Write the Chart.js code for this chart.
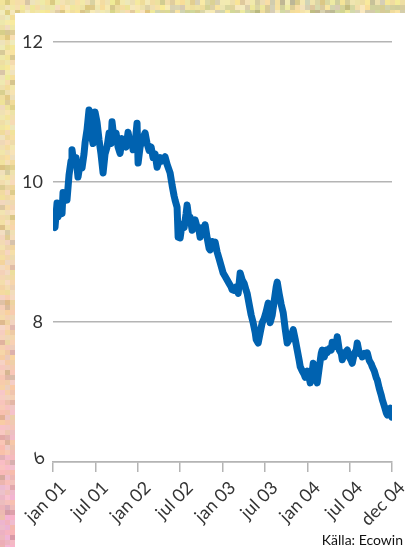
<!DOCTYPE html>
<html>
<head>
<meta charset="utf-8">
<script src="https://cdn.jsdelivr.net/npm/chart.js@4/dist/chart.umd.min.js"></script>
<style>
  html, body { margin: 0; padding: 0; overflow: hidden; }
  body { width: 405px; height: 547px; position: relative; }
  #frame { position: absolute; left: 0; top: 0; }
  #panel { position: absolute; left: 15px; top: 13px; width: 390px; height: 534px; background: #fff; }
  #chart { position: absolute; left: 0; top: 0; }
</style>
</head>
<body>
<canvas id="frame" width="405" height="547"></canvas>
<div id="panel"></div>
<canvas id="chart" width="405" height="547"></canvas>
<script>
// Months counted from january 2001
const months = [
  0, 0.28, 0.57, 0.71, 0.99, 1.28, 1.42, 1.70, 1.98, 2.27, 2.55, 2.69, 2.98, 3.26, 3.54, 3.83,
  4.11, 4.39, 4.54, 4.82, 5.10, 5.39, 5.67, 5.95, 6.24, 6.52, 6.80, 7.09, 7.37, 7.65, 7.94,
  8.22, 8.36, 8.65, 8.93, 9.21, 9.50, 9.78, 10.06, 10.35, 10.63, 10.91, 11.20, 11.34, 11.62,
  11.90, 12.05, 12.33, 12.61, 13.04, 13.32, 13.61, 13.89, 14.17, 14.46, 14.74, 15.16, 15.45,
  15.87, 16.16, 16.58, 16.87, 17.15, 17.29, 17.57, 17.72, 18.00, 18.28, 18.57, 18.85, 18.99,
  19.27, 19.42, 19.70, 19.98, 20.12, 20.41, 20.69, 20.83, 21.12, 21.40, 21.54, 21.83, 22.11,
  22.25, 22.53, 22.68, 22.96, 23.24, 23.53, 23.81, 24.09, 24.38, 24.66, 24.94, 25.23, 25.37,
  25.65, 25.94, 26.22, 26.50, 26.79, 27.07, 27.35, 27.49, 27.78, 28.06, 28.34, 28.63, 28.77,
  29.05, 29.34, 29.62, 29.90, 30.19, 30.47, 30.75, 31.04, 31.32, 31.60, 31.75, 32.03, 32.31,
  32.60, 32.88, 33.16, 33.45, 33.73, 34.01, 34.30, 34.58, 34.86, 35.01, 35.29, 35.57, 35.71,
  36.00, 36.28, 36.42, 36.71, 36.85, 37.13, 37.41, 37.70, 37.98, 38.12, 38.41, 38.69, 38.83,
  39.12, 39.40, 39.54, 39.82, 40.11, 40.25, 40.53, 40.82, 40.96, 41.24, 41.52, 41.67, 41.95,
  42.23, 42.37, 42.66, 42.94, 43.08, 43.37, 43.65, 43.79, 44.08, 44.36, 44.50, 44.78, 45.07,
  45.21, 45.49, 45.78, 45.92, 46.20, 46.49, 46.63, 46.91, 47.20, 47.34, 47.62, 47.76, 48.00
];

const rates = [
  9.40, 9.35, 9.70, 9.50, 9.60, 9.55, 9.85, 9.80, 9.74, 10.10, 10.30, 10.46, 10.25, 10.35, 10.07, 10.25,
  10.20, 10.40, 10.56, 10.75, 11.03, 10.70, 10.55, 11.00, 10.85, 10.60, 10.40, 10.13, 10.40, 10.50, 10.70,
  10.55, 10.86, 10.60, 10.70, 10.50, 10.41, 10.62, 10.55, 10.50, 10.71, 10.55, 10.60, 10.46, 10.55,
  10.84, 10.27, 10.50, 10.60, 10.70, 10.55, 10.45, 10.50, 10.35, 10.40, 10.21, 10.35, 10.30,
  10.36, 10.25, 10.13, 9.95, 9.80, 9.74, 9.64, 9.21, 9.20, 9.40, 9.35, 9.55, 9.67,
  9.45, 9.50, 9.31, 9.40, 9.46, 9.35, 9.30, 9.21, 9.35, 9.30, 9.39, 9.20, 9.05,
  9.03, 9.15, 9.10, 9.14, 9.00, 8.90, 8.80, 8.70, 8.65, 8.60, 8.55, 8.50, 8.46,
  8.45, 8.50, 8.41, 8.70, 8.60, 8.55, 8.45, 8.41, 8.25, 8.10, 7.99, 7.85, 7.75,
  7.70, 7.85, 7.99, 8.05, 8.15, 8.27, 7.99, 8.10, 8.30, 8.50, 8.57, 8.40, 8.25,
  8.13, 7.90, 7.70, 7.75, 7.80, 7.89, 7.75, 7.60, 7.45, 7.36, 7.30, 7.25, 7.21,
  7.30, 7.20, 7.13, 7.30, 7.41, 7.25, 7.13, 7.35, 7.55, 7.60, 7.50, 7.60, 7.56,
  7.62, 7.60, 7.71, 7.65, 7.70, 7.79, 7.60, 7.55, 7.46, 7.55, 7.58, 7.60, 7.50,
  7.45, 7.41, 7.55, 7.60, 7.70, 7.55, 7.55, 7.50, 7.55, 7.52, 7.56, 7.45, 7.40,
  7.36, 7.30, 7.20, 7.17, 7.05, 6.95, 6.89, 6.80, 6.70, 6.67, 6.75, 6.77, 6.64
];

const tickMonths = [0, 6, 12, 18, 24, 30, 36, 42, 48];
const tickLabels = ['jan 01', 'jul 01', 'jan 02', 'jul 02', 'jan 03', 'jul 03', 'jan 04', 'jul 04', 'dec 04'];
const yTicks = [6, 8, 10, 12];
const source = 'Källa: Ecowin';

const FONT = 'Lato, "Liberation Sans", sans-serif';
const TEXT = '#333333';
const GRID = '#b4b4b4';

// mottled paper frame behind the white panel
function paintFrame() {
    const c = document.getElementById('frame').getContext('2d');
    const cell = 5;
    let seed = 7;
    const next = () => { seed = (seed * 9301 + 49297) % 233280; return seed / 233280; };
    for (let y = 0; y < 547; y += cell) {
        for (let x = 0; x < 405; x += cell) {
            const t = y / 547;
            // yellow at the top, turning to pink down the left edge
            let r = 236 + next() * 14, g = 220 + next() * 16 - t * t * 50, b = 150 + next() * 40 + t * t * 25;
            if (y < 14 && x > 150 && next() > 0.5) { r -= 28; g -= 18; b -= 5; }
            if (next() > 0.85) { r -= 22; g -= 22; b -= 22; }
            c.fillStyle = `rgb(${r | 0},${g | 0},${b | 0})`;
            c.fillRect(x, y, cell, cell);
        }
    }
}
paintFrame();

const extras = {
    id: 'extras',
    afterDraw(chart) {
        const ctx = chart.ctx;
        const y = chart.scales.y;
        ctx.save();
        ctx.fillStyle = TEXT;
        // bottom value label sits tilted like the dates
        ctx.font = '18px ' + FONT;
        ctx.translate(y.right - 15, y.getPixelForValue(yTicks[0]) - 3);
        ctx.rotate(-Math.PI / 4);
        ctx.textAlign = 'right';
        ctx.textBaseline = 'middle';
        ctx.fillText(String(yTicks[0]), 6, 0);
        ctx.restore();

        ctx.save();
        ctx.fillStyle = '#111';
        ctx.font = '14px ' + FONT;
        ctx.textAlign = 'right';
        ctx.textBaseline = 'alphabetic';
        ctx.fillText(source, 403, 545);
        ctx.restore();
    }
};

new Chart(document.getElementById('chart'), {
    type: 'line',
    data: {
        datasets: [{
            data: months.map((m, i) => ({ x: m, y: rates[i] })),
            borderColor: '#0062b0',
            borderWidth: 7,
            borderJoinStyle: 'round',
            borderCapStyle: 'round',
            pointRadius: 0,
            tension: 0
        }]
    },
    options: {
        responsive: false,
        animation: false,
        layout: { padding: { left: 0, right: 13, top: 42, bottom: 0 } },
        plugins: { legend: { display: false }, tooltip: { enabled: false } },
        scales: {
            x: {
                type: 'linear',
                min: 0,
                max: 48,
                afterBuildTicks: (scale) => { scale.ticks = tickMonths.map(v => ({ value: v })); },
                afterFit: (scale) => {
                    scale.height = 85;
                    scale.paddingLeft = 0;
                    scale.paddingRight = 0;
                },
                border: { display: true, color: GRID, width: 1.5 },
                grid: { drawOnChartArea: false, drawTicks: true, tickLength: 10, color: GRID, lineWidth: 1.5 },
                ticks: {
                    callback: (v) => tickLabels[tickMonths.indexOf(v)],
                    minRotation: 45,
                    maxRotation: 45,
                    autoSkip: false,
                    padding: 5,
                    labelOffset: 10,
                    color: TEXT,
                    font: { family: FONT, size: 18 }
                }
            },
            y: {
                min: 6,
                max: 12,
                afterBuildTicks: (scale) => { scale.ticks = yTicks.map(v => ({ value: v })); },
                afterFit: (scale) => { scale.width = 53; },
                border: { display: false },
                grid: { drawTicks: false, color: GRID, lineWidth: 1.5 },
                ticks: {
                    callback: (v) => (v === yTicks[0] ? '' : String(v)),
                    padding: 10,
                    color: TEXT,
                    font: { family: FONT, size: 18 }
                }
            }
        }
    },
    plugins: [extras]
});
</script>
</body>
</html>
